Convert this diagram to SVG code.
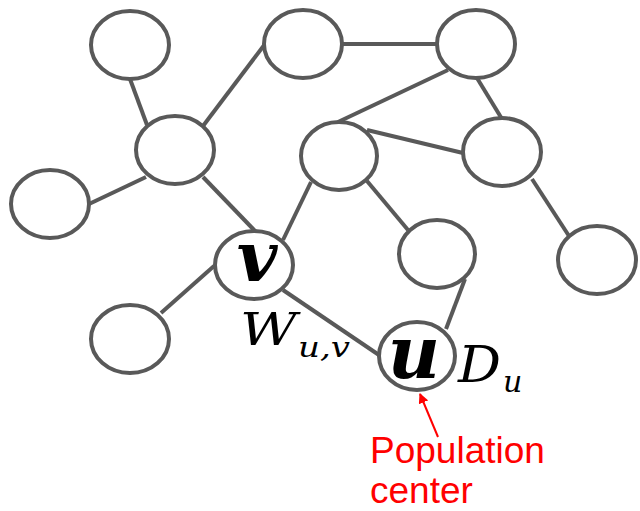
<svg xmlns="http://www.w3.org/2000/svg" width="640" height="511" viewBox="0 0 640 511">
  <defs>
    <style>
      .edge { stroke: #595959; stroke-width: 4; fill: none; }
      .node { fill: #ffffff; stroke: #595959; stroke-width: 4; }
      .math { font-family: "DejaVu Serif", "Liberation Serif", serif; font-style: italic; fill: #000000; }
      .bold { font-weight: bold; }
      .note { font-family: "Liberation Sans", Arial, sans-serif; font-size: 37px; fill: #ff0000; }
    </style>
    <marker id="redHead" viewBox="0 0 10 10" refX="9" refY="5" markerWidth="5" markerHeight="5" orient="auto" markerUnits="strokeWidth">
      <path d="M0,0 L10,5 L0,10 z" fill="#ff0000"/>
    </marker>
  </defs>

  <rect width="640" height="511" fill="#ffffff"/>

  <g id="connectors">
    <line class="edge" x1="130" y1="79" x2="147" y2="125"/>
    <line class="edge" x1="203" y1="126" x2="265" y2="44"/>
    <line class="edge" x1="341" y1="44" x2="438" y2="44"/>
    <line class="edge" x1="448" y1="70" x2="338" y2="122"/>
    <line class="edge" x1="477" y1="78" x2="502" y2="119"/>
    <line class="edge" x1="367" y1="130" x2="463" y2="153"/>
    <line class="edge" x1="146" y1="177" x2="89" y2="204"/>
    <line class="edge" x1="203" y1="177" x2="256" y2="232"/>
    <line class="edge" x1="311" y1="182" x2="283" y2="240"/>
    <line class="edge" x1="367" y1="181" x2="408" y2="230"/>
    <line class="edge" x1="532" y1="179" x2="569" y2="236"/>
    <line class="edge" x1="214" y1="266" x2="161" y2="313"/>
    <line class="edge" x1="283" y1="290" x2="379" y2="355"/>
    <line class="edge" x1="465" y1="279" x2="446" y2="329"/>
  </g>

  <g id="n1"><ellipse class="node" cx="130" cy="45" rx="39" ry="34"/></g>
  <g id="n2"><ellipse class="node" cx="303" cy="44" rx="39" ry="34"/></g>
  <g id="n3"><ellipse class="node" cx="476" cy="44" rx="39" ry="34"/></g>
  <g id="n4"><ellipse class="node" cx="175" cy="150" rx="39" ry="34"/></g>
  <g id="n5"><ellipse class="node" cx="339" cy="156" rx="38" ry="34"/></g>
  <g id="n6"><ellipse class="node" cx="502" cy="152" rx="39" ry="34"/></g>
  <g id="n7"><ellipse class="node" cx="50" cy="204" rx="39" ry="34"/></g>
  <g id="n9"><ellipse class="node" cx="437" cy="254" rx="38" ry="34"/></g>
  <g id="n10"><ellipse class="node" cx="597" cy="260" rx="39" ry="34"/></g>
  <g id="n11"><ellipse class="node" cx="130" cy="339" rx="39" ry="34"/></g>

  <g id="node-v">
    <ellipse class="node" cx="254" cy="265" rx="39" ry="34"/>
    <text class="math bold" x="257" y="281" font-size="70" text-anchor="middle">v</text>
  </g>

  <g id="node-u">
    <ellipse class="node" cx="417" cy="356" rx="38" ry="34"/>
    <text class="math bold" x="414" y="378" font-size="72" text-anchor="middle">u</text>
  </g>

  <g id="label-w">
    <text class="math" x="240" y="345" font-size="44" textLength="57" lengthAdjust="spacingAndGlyphs">W</text>
    <text class="math" x="298" y="357" font-size="28" textLength="52" lengthAdjust="spacingAndGlyphs">u,v</text>
  </g>

  <g id="label-d">
    <text class="math" x="458" y="382" font-size="51" textLength="43" lengthAdjust="spacingAndGlyphs">D</text>
    <text class="math" x="503" y="392" font-size="30">u</text>
  </g>

  <g id="population-note">
    <line x1="438" y1="437" x2="420" y2="394" stroke="#ff0000" stroke-width="2" marker-end="url(#redHead)"/>
    <text class="note" x="370" y="463">Population</text>
    <text class="note" x="370" y="503">center</text>
  </g>
</svg>
